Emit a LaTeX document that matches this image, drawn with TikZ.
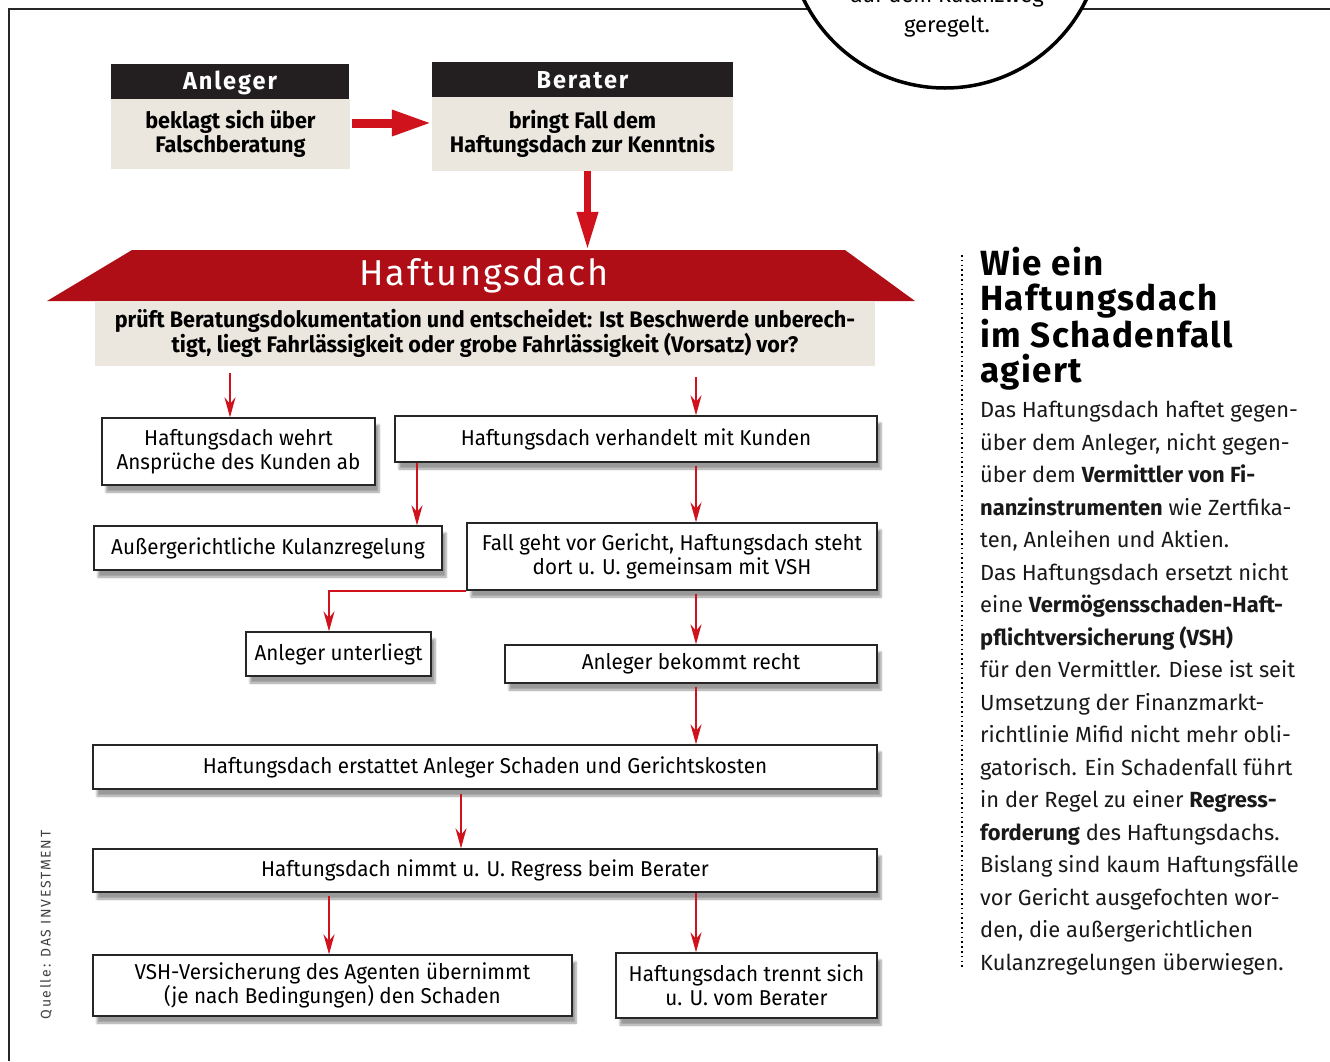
\documentclass[tikz,border=0pt]{standalone}
\usepackage{fontspec}
\usepackage{xcolor}
\setmainfont{Fira Sans}
\newfontfamily\boxfont[FakeStretch=0.96]{Fira Sans}
\usetikzlibrary{positioning, calc, arrows.meta, shadows.blur}
\definecolor{dachrot}{HTML}{B00E17}
\definecolor{pfeilrot}{HTML}{D0121D}
\definecolor{beige}{HTML}{ECE7DE}
\definecolor{kopf}{HTML}{231F20}

\begin{document}
\begin{tikzpicture}[
    x=1pt, y=-1pt,
    every node/.style={inner sep=0pt},
    box/.style={
        draw=black!85,
        line width=1.3pt,
        fill=white,
        align=center,
        font=\boxfont\fontsize{21.5}{24}\selectfont,
        blur shadow={shadow xshift=4pt, shadow yshift=-7pt, shadow blur steps=6}
    },
    kopfbox/.style={
        fill=kopf,
        text=white,
        font=\boxfont\bfseries\fontsize{24.5}{26}\selectfont\addfontfeatures{LetterSpace=8}
    },
    beigebox/.style={
        fill=beige,
        align=center,
        font=\boxfont\bfseries\fontsize{22.5}{24}\selectfont
    },
    pfeil/.style={
        draw=pfeilrot,
        line width=2.3pt,
        -{Stealth[length=20pt, width=11pt]}
    },
    grosspfeil/.style={
        draw=pfeilrot,
        line width=9pt,
        -{Triangle[length=40pt, width=24pt]}
    }
]

\useasboundingbox (0,0) rectangle (1330,1061);
\clip (0,0) rectangle (1330,1061);

% Rahmen und Kreis
\draw[line width=2pt, black!85] (9,1061) -- (9,9) -- (1330,9);
\draw[line width=3.5pt, fill=white] (945,-69) circle[radius=157];
\node[align=center, font=\fontsize{22}{30}\selectfont] (kreistext) at (947,12) {auf dem Kulanzweg\\geregelt.};

% Anleger und Berater
\node[kopfbox, minimum width=238pt, minimum height=37pt] (anlegerkopf) at (230,82.5) {Anleger};
\node[beigebox, minimum width=239pt, minimum height=70pt] (anleger) at (230.5,134) {beklagt sich über\\Falschberatung};
\node[kopfbox, minimum width=301pt, minimum height=37pt] (beraterkopf) at (582.5,80.5) {Berater};
\node[beigebox, minimum width=301pt, minimum height=74pt] (berater) at (582.5,134) {bringt Fall dem\\Haftungsdach zur Kenntnis};

% Dach
\fill[dachrot] (47,301) -- (132,250) -- (845,250) -- (915,301) -- cycle;
\node[minimum width=713pt, minimum height=51pt, text=white,
      font=\fontsize{36}{38}\selectfont\addfontfeatures{LetterSpace=6}] (dach) at (484,275.5) {Haftungsdach};
\node[beigebox, minimum width=780pt, minimum height=65pt] (pruef) at (485,333.5)
    {prüft Beratungsdokumentation und entscheidet: Ist Beschwerde unberech-\\
     tigt, liegt Fahrlässigkeit oder grobe Fahrlässigkeit (Vorsatz) vor?};

% Kästen
\node[box, minimum width=273pt, minimum height=67pt] (wehrt) at (238.5,451.5) {Haftungsdach wehrt\\Ansprüche des Kunden ab};
\node[box, minimum width=482pt, minimum height=46pt] (verhandelt) at (636,439) {Haftungsdach verhandelt mit Kunden};
\node[box, minimum width=348pt, minimum height=44pt] (kulanz) at (268,548) {Außergerichtliche Kulanzregelung};
\node[box, minimum width=410pt, minimum height=67pt] (gericht) at (672,556.5) {Fall geht vor Gericht, Haftungsdach steht\\dort u. U. gemeinsam mit VSH};
\node[box, minimum width=185pt, minimum height=44pt] (unterliegt) at (338.5,654) {Anleger unterliegt};
\node[box, minimum width=372pt, minimum height=38pt] (recht) at (691,664) {Anleger bekommt recht};
\node[box, minimum width=784pt, minimum height=44pt] (erstattet) at (485,767) {Haftungsdach erstattet Anleger Schaden und Gerichtskosten};
\node[box, minimum width=784pt, minimum height=43pt] (regress) at (485,870.5) {Haftungsdach nimmt u. U. Regress beim Berater};
\node[box, minimum width=479pt, minimum height=61pt] (vsh) at (332.5,985.5) {VSH-Versicherung des Agenten übernimmt\\(je nach Bedingungen) den Schaden};
\node[box, minimum width=261pt, minimum height=65pt] (trennt) at (746.5,985.5) {Haftungsdach trennt sich\\u. U. vom Berater};

% Pfeile
\coordinate (x230) at (230,0);
\coordinate (x329) at (329,0);
\coordinate (x417) at (417,0);
\coordinate (x461) at (461,0);
\coordinate (x696) at (696,0);

\draw[grosspfeil, shorten <=2pt] ([yshift=11pt]anleger.east) -- ([yshift=11pt]anleger.east -| berater.west);
\draw[grosspfeil, line width=7pt, -{Triangle[length=38pt, width=20pt]}] ([xshift=5pt]berater.south) -- ([xshift=5pt]berater.south |- dach.north);

\draw[pfeil, shorten <=7pt] (x230 |- pruef.south) -- (x230 |- wehrt.north);
\draw[pfeil, shorten <=11pt] (x696 |- pruef.south) -- (x696 |- verhandelt.north);
\draw[pfeil] (x417 |- verhandelt.south) -- (x417 |- kulanz.north);
\draw[pfeil, shorten <=3pt] (x696 |- verhandelt.south) -- (x696 |- gericht.north);
\draw[pfeil] (gericht.south west) -| (x329 |- unterliegt.north);
\draw[pfeil, shorten <=3pt] (x696 |- gericht.south) -- (x696 |- recht.north);
\draw[pfeil, shorten <=3pt] (x696 |- recht.south) -- (x696 |- erstattet.north);
\draw[pfeil, shorten <=4pt] (x461 |- erstattet.south) -- (x461 |- regress.north);
\draw[pfeil, shorten <=3pt] (x329 |- regress.south) -- (x329 |- vsh.north);
\draw[pfeil] (x696 |- regress.south) -- (x696 |- trennt.north);

% Quelle
\node[rotate=90, text=black!75, font=\fontsize{14}{16}\selectfont\addfontfeatures{LetterSpace=12}] (quelle) at (46,925) {Quelle: DAS INVESTMENT};

% Randspalte
\draw[line width=1.6pt, dash pattern=on 1.6pt off 3.2pt] (962,255) -- (962,970);
\node[anchor=north west, align=left, font=\bfseries\fontsize{35}{35}\selectfont\addfontfeatures{LetterSpace=4}] (titel) at (980,247)
    {Wie ein\\Haftungsdach\\im Schadenfall\\agiert};
\node[anchor=north west, align=left, text=black!90, font=\fontsize{21.9}{32.5}\selectfont] (fliesstext) at (980,401)
    {Das Haftungsdach haftet gegen-\\
     über dem Anleger, nicht gegen-\\
     über dem \textbf{Vermittler von Fi-}\\
     \textbf{nanzinstrumenten} wie Zertfika-\\
     ten, Anleihen und Aktien.\\
     Das Haftungsdach ersetzt nicht\\
     eine \textbf{Vermögensschaden-Haft-}\\
     \textbf{pflichtversicherung (VSH)}\\
     für den Vermittler. Diese ist seit\\
     Umsetzung der Finanzmarkt-\\
     richtlinie Mifid nicht mehr obli-\\
     gatorisch. Ein Schadenfall führt\\
     in der Regel zu einer \textbf{Regress-}\\
     \textbf{forderung} des Haftungsdachs.\\
     Bislang sind kaum Haftungsfälle\\
     vor Gericht ausgefochten wor-\\
     den, die außergerichtlichen\\
     Kulanzregelungen überwiegen.};

\end{tikzpicture}
\end{document}
